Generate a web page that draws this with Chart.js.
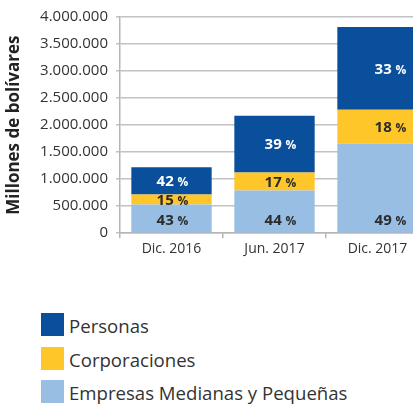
<!DOCTYPE html>
<html>
<head>
<meta charset="utf-8">
<script src="https://cdn.jsdelivr.net/npm/chart.js@4.4.0/dist/chart.umd.min.js"></script>
<style>
  html, body { margin: 0; padding: 0; background: #fff; overflow: hidden; width: 413px; height: 410px; }
  #wrap { position: absolute; left: 0; top: 0; width: 430px; height: 259px; }
  #legend { position: absolute; left: 41px; top: 313px; font-family: "Open Sans", sans-serif; font-size: 18.6px; color: #333; }
  .item { position: relative; height: 23px; margin-bottom: 10.5px; }
  .sw { position: absolute; left: 0; top: 0; width: 23px; height: 23px; }
  .tx { position: absolute; left: 28px; top: 1px; line-height: 23px; white-space: nowrap; }
</style>
</head>
<body>
<div id="wrap"><canvas id="c" width="430" height="259"></canvas></div>
<div id="legend"></div>
<script>
// ---- data ----
const categories = ['Dic. 2016', 'Jun. 2017', 'Dic. 2017'];
const seriesNames = ['Empresas Medianas y Pequeñas', 'Corporaciones', 'Personas'];
const empresas = [530000, 790000, 1660000];
const corporaciones = [185000, 335000, 625000];
const personas = [505000, 1050000, 1530000];
const pctEmpresas = ['43', '44', '49'];
const pctCorporaciones = ['15', '17', '18'];
const pctPersonas = ['42', '39', '33'];
const yTicks = [0, 500000, 1000000, 1500000, 2000000, 2500000, 3000000, 3500000, 4000000];
const legendOrder = ['Personas', 'Corporaciones', 'Empresas Medianas y Pequeñas'];

const colors = {
  'Empresas Medianas y Pequeñas': '#98BEE4',
  'Corporaciones': '#FFC629',
  'Personas': '#0A4F9B'
};
const FONT = '"Open Sans", sans-serif';

function fmt(v) {
  return String(v).replace(/\B(?=(\d{3})+(?!\d))/g, '.');
}

const pctSets = [pctEmpresas, pctCorporaciones, pctPersonas];
const labelPlugin = {
  id: 'pctLabels',
  afterDatasetsDraw(chart) {
    const ctx = chart.ctx;
    const xOff = [1, 6, 13];
    ctx.save();
    ctx.textBaseline = 'middle';
    chart.data.datasets.forEach((ds, di) => {
      const meta = chart.getDatasetMeta(di);
      meta.data.forEach((bar, i) => {
        const num = pctSets[di][i];
        let y;
        if (di === 0) {
          y = bar.base - 12;
        } else {
          y = (bar.y + bar.base) / 2 + 1;
        }
        const color = di === 2 ? '#ffffff' : '#2b2b2b';
        ctx.fillStyle = color;
        ctx.font = 'bold 15px ' + FONT;
        const w1 = ctx.measureText(num + ' ').width;
        ctx.font = 'bold 12px ' + FONT;
        const w2 = ctx.measureText('%').width;
        const total = w1 + w2;
        const x0 = bar.x + xOff[i] - total / 2;
        ctx.font = 'bold 15px ' + FONT;
        ctx.textAlign = 'left';
        ctx.fillText(num, x0, y);
        ctx.font = 'bold 12px ' + FONT;
        ctx.fillText('%', x0 + w1, y + 1);
      });
    });
    ctx.restore();
  }
};

const datasetValues = [empresas, corporaciones, personas];
new Chart(document.getElementById('c'), {
  type: 'bar',
  data: {
    labels: categories,
    datasets: seriesNames.map((n, i) => ({
      label: n,
      data: datasetValues[i],
      backgroundColor: colors[n],
      borderWidth: 0,
      barPercentage: 1,
      categoryPercentage: 0.78
    }))
  },
  options: {
    responsive: false,
    animation: false,
    layout: { padding: { top: 11, right: 1, left: 0, bottom: 0 } },
    plugins: { legend: { display: false }, tooltip: { enabled: false } },
    scales: {
      x: {
        stacked: true,
        grid: { drawOnChartArea: false, drawTicks: true, tickLength: 5, color: '#b5b5b5', lineWidth: 1.5 },
        border: { color: '#b5b5b5', width: 1.5 },
        ticks: { color: '#333', font: { family: FONT, size: 14 }, padding: 2 }
      },
      y: {
        stacked: true,
        min: 0,
        max: 4000000,
        afterFit(scale) { scale.width = 120; },
        afterBuildTicks(scale) { scale.ticks = yTicks.map(v => ({ value: v })); },
        grid: { color: '#c2c2c2', lineWidth: 1.5, drawTicks: true, tickLength: 4 },
        border: { color: '#b5b5b5', width: 1.5 },
        ticks: { color: '#333', font: { family: FONT, size: 15 }, padding: 8, callback: v => fmt(v) },
        title: { display: true, text: 'Millones de bolívares', color: '#222', font: { family: FONT, size: 17, weight: 'bold' }, padding: { top: 4, bottom: 0 } }
      }
    }
  },
  plugins: [labelPlugin]
});

const lg = document.getElementById('legend');
legendOrder.forEach(n => {
  const d = document.createElement('div');
  d.className = 'item';
  const s = document.createElement('div');
  s.className = 'sw';
  s.style.background = colors[n];
  const t = document.createElement('div');
  t.className = 'tx';
  t.textContent = n;
  d.appendChild(s); d.appendChild(t);
  lg.appendChild(d);
});
</script>
</body>
</html>
